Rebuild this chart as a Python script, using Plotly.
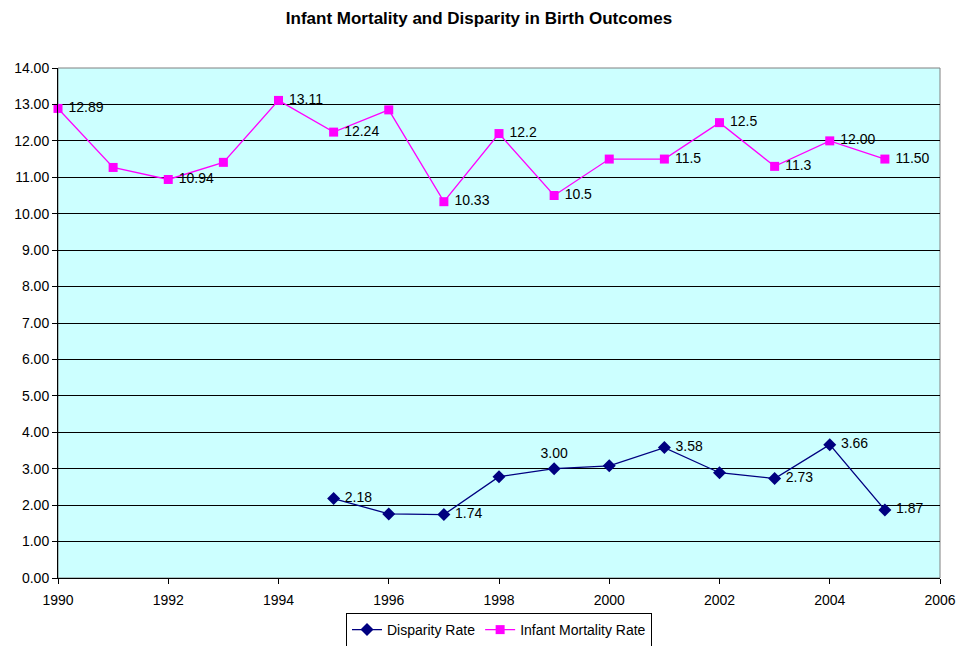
import plotly.graph_objects as go

# Infant mortality rate, 1990-2005
years_imr = [1990, 1991, 1992, 1993, 1994, 1995, 1996, 1997, 1998, 1999, 2000, 2001, 2002, 2003, 2004, 2005]
imr = [12.89, 11.27, 10.94, 11.41, 13.11, 12.24, 12.85, 10.33, 12.2, 10.5, 11.5, 11.5, 12.5, 11.3, 12.00, 11.50]
imr_labels = ["12.89", "", "10.94", "", "13.11", "12.24", "", "10.33", "12.2", "10.5", "", "11.5", "12.5", "11.3", "12.00", "11.50"]

# Disparity rate, 1995-2005
years_disp = [1995, 1996, 1997, 1998, 1999, 2000, 2001, 2002, 2003, 2004, 2005]
disparity = [2.18, 1.76, 1.74, 2.78, 3.00, 3.08, 3.58, 2.89, 2.73, 3.66, 1.87]
disp_labels = ["2.18", "", "1.74", "", "3.00", "", "3.58", "", "2.73", "3.66", "1.87"]
disp_pos = ["middle right"] * len(years_disp)
disp_pos[4] = "top center"

FONT = "Arial, Liberation Sans, sans-serif"

fig = go.Figure()

fig.add_trace(go.Scatter(
    x=years_disp, y=disparity, name="Disparity Rate",
    mode="lines+markers+text",
    line=dict(color="#000080", width=1.3),
    marker=dict(symbol="diamond", size=10, color="#000080"),
    text=[(" " + t) if t and p == "middle right" else t for t, p in zip(disp_labels, disp_pos)],
    textposition=disp_pos,
    textfont=dict(family=FONT, size=14, color="#000000"),
    cliponaxis=False,
))

fig.add_trace(go.Scatter(
    x=years_imr, y=imr, name="Infant Mortality Rate",
    mode="lines+markers+text",
    line=dict(color="#FF00FF", width=1.3),
    marker=dict(symbol="square", size=9, color="#FF00FF"),
    text=[(" " + t) if t else t for t in imr_labels],
    textposition="middle right",
    textfont=dict(family=FONT, size=14, color="#000000"),
    cliponaxis=False,
))

fig.update_layout(
    width=958, height=646,
    margin=dict(l=58, r=18, t=68, b=68, autoexpand=False),
    paper_bgcolor="white",
    plot_bgcolor="#CCFFFF",
    font=dict(family=FONT, size=13, color="#000000"),
    title=dict(
        text="<b>Infant Mortality and Disparity in Birth Outcomes</b>",
        x=0.5, xanchor="center", y=0.972, yanchor="middle",
        font=dict(size=17, family=FONT),
    ),
    showlegend=True,
    legend=dict(
        orientation="h", x=0.5, xanchor="center", y=-0.102, yanchor="middle",
        bordercolor="#000000", borderwidth=1, bgcolor="white",
        font=dict(size=14), itemwidth=30, tracegroupgap=0,
    ),
    shapes=[dict(type="rect", xref="paper", yref="paper", x0=0, x1=1, y0=0, y1=1,
                 line=dict(color="#808080", width=1), layer="below")],
)

fig.update_xaxes(
    range=[1990, 2006], dtick=2, tick0=1990,
    showgrid=False, zeroline=False, automargin=False,
    showline=True, linecolor="#000000", linewidth=1,
    ticks="outside", ticklen=5, tickcolor="#000000",
    ticklabelstandoff=4,
    tickfont=dict(size=14),
)
fig.update_yaxes(
    range=[0, 14], dtick=1, tickformat=".2f",
    showgrid=True, gridcolor="#000000", gridwidth=1,
    zeroline=False, automargin=False,
    showline=True, linecolor="#000000", linewidth=1,
    ticks="outside", ticklen=5, tickcolor="#000000",
    tickfont=dict(size=14),
)

fig.write_html("out.html")
